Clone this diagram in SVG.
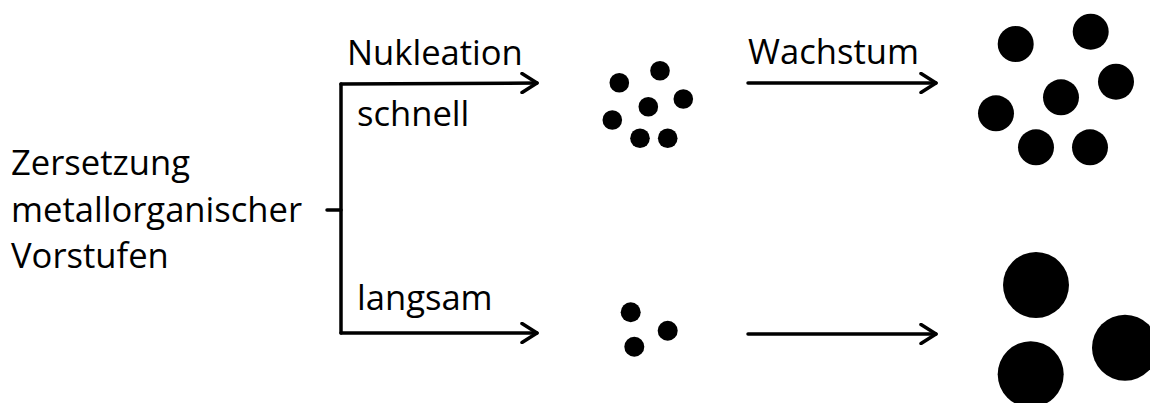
<svg xmlns="http://www.w3.org/2000/svg" width="1150" height="403" viewBox="0 0 1150 403">
<style>
text{font-family:"Open Sans","Noto Sans","Liberation Sans",sans-serif;font-size:34.6px;fill:#000}
.ln{fill:none;stroke:#000;stroke-width:3.5;stroke-linecap:round;stroke-linejoin:round}
.dot{fill:#000}
</style>
<defs>
<marker id="ah" markerUnits="userSpaceOnUse" viewBox="-17 -11 19 22" refX="0" refY="0" markerWidth="19" markerHeight="22" orient="auto">
<path d="M-15,-9.5 L0,0 L-15,9.5" fill="none" stroke="#000" stroke-width="3.5" stroke-linecap="round" stroke-linejoin="round"/>
</marker>
</defs>
<g id="source">
<text x="11" y="175">Zersetzung</text>
<text x="11" y="222">metallorganischer</text>
<text x="11" y="268">Vorstufen</text>
</g>
<g id="connectors">
<path class="ln" d="M327,210 L341,210"/>
<path class="ln" d="M341,84 L341,333"/>
<path class="ln" d="M341,84 L537,83" marker-end="url(#ah)"/>
<path class="ln" d="M341,333 L537,333" marker-end="url(#ah)"/>
<path class="ln" d="M748,83 L936,83" marker-end="url(#ah)"/>
<path class="ln" d="M748,334 L936,334" marker-end="url(#ah)"/>
</g>
<g id="labels">
<text x="347" y="65">Nukleation</text>
<text x="357" y="126">schnell</text>
<text x="357" y="310">langsam</text>
<text x="748" y="64">Wachstum</text>
</g>
<g id="nuclei-fast">
<circle class="dot" cx="619.3" cy="82.7" r="9.8"/>
<circle class="dot" cx="660" cy="70.7" r="9.8"/>
<circle class="dot" cx="683.3" cy="99" r="9.8"/>
<circle class="dot" cx="648.3" cy="106.7" r="9.8"/>
<circle class="dot" cx="612.3" cy="120" r="9.8"/>
<circle class="dot" cx="640" cy="138.3" r="9.8"/>
<circle class="dot" cx="667.7" cy="138.3" r="9.8"/>
</g>
<g id="particles-fast">
<circle class="dot" cx="1015.7" cy="44" r="18"/>
<circle class="dot" cx="1090.7" cy="31.7" r="18"/>
<circle class="dot" cx="1116" cy="81.7" r="18"/>
<circle class="dot" cx="1061" cy="97.3" r="18"/>
<circle class="dot" cx="996" cy="113.3" r="18"/>
<circle class="dot" cx="1036" cy="147.3" r="18"/>
<circle class="dot" cx="1090" cy="147.3" r="18"/>
</g>
<g id="nuclei-slow">
<circle class="dot" cx="630.7" cy="312.3" r="10"/>
<circle class="dot" cx="667.7" cy="330.7" r="10"/>
<circle class="dot" cx="634.3" cy="346.7" r="10"/>
</g>
<g id="particles-slow">
<circle class="dot" cx="1036" cy="285" r="33"/>
<circle class="dot" cx="1125" cy="347.7" r="33"/>
<circle class="dot" cx="1030.7" cy="374.3" r="33"/>
</g>
</svg>
